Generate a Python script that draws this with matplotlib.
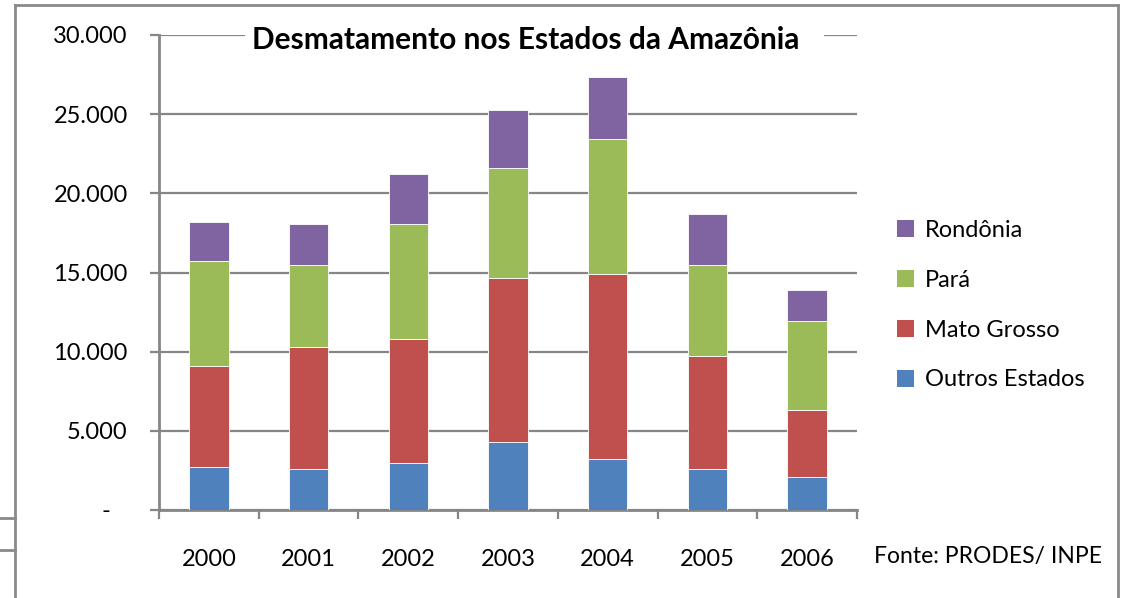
import numpy as np
import matplotlib
matplotlib.use("Agg")
import matplotlib.pyplot as plt
from matplotlib.lines import Line2D
from matplotlib.patches import Rectangle, Patch
from matplotlib.transforms import ScaledTranslation

plt.rcParams['font.family'] = ['Lato', 'DejaVu Sans']

W, H = 1126, 598

anos = ["2000", "2001", "2002", "2003", "2004", "2005", "2006"]
outros = [2694, 2568, 2947, 4272, 3218, 2568, 2063]
mato_grosso = [6373, 7698, 7824, 10411, 11718, 7169, 4266]
para = [6664, 5194, 7320, 6941, 8474, 5723, 5616]
rondonia = [2486, 2606, 3109, 3616, 3931, 3262, 1981]

series = [("Outros Estados", outros, "#4F81BD"),
          ("Mato Grosso", mato_grosso, "#C0504D"),
          ("Pará", para, "#9BBB59"),
          ("Rondônia", rondonia, "#8064A2")]

y_ticks = [0, 5000, 10000, 15000, 20000, 25000, 30000]
y_labels = ["-", "5.000", "10.000", "15.000", "20.000", "25.000", "30.000"]

GRAY = "#868686"


def px(x, y):
    return x / W, 1 - y / H


fig = plt.figure(figsize=(W / 100, H / 100), dpi=100)
l, b = px(159, 510)
r, t = px(857, 35)
ax = fig.add_axes([l, b, r - l, t - b])

x = np.arange(len(anos))
bottom = np.zeros(len(anos))
for nome, vals, cor in series:
    ax.bar(x, vals, width=0.395, bottom=bottom, color=cor, edgecolor="white",
           linewidth=0.6, label=nome, zorder=3)
    bottom += np.array(vals)

ax.set_xlim(-0.5, len(anos) - 0.5)
ax.set_ylim(0, 30000)
ax.set_yticks(y_ticks)
ax.set_yticklabels(y_labels)
ax.set_xticks(x)
ax.set_xticklabels(anos)
ax.set_xticks(np.arange(-0.5, len(anos)), minor=True)
ax.tick_params(axis="x", which="major", length=0, pad=28, labelsize=17)
ax.tick_params(axis="x", which="minor", length=6.5, width=1.6, color=GRAY, direction="out")
ax.tick_params(axis="y", length=6.5, width=1.6, color=GRAY, pad=16, labelsize=17)

# Excel puts the zero dash a bit to the left
lbl0 = ax.get_yticklabels()[0]
lbl0.set_transform(lbl0.get_transform() + ScaledTranslation(-0.17, 0, fig.dpi_scale_trans))

ax.grid(axis="y", color=GRAY, linewidth=1.6, zorder=0)
ax.set_axisbelow(True)
for s in ["top", "right"]:
    ax.spines[s].set_visible(False)
for s in ["left", "bottom"]:
    ax.spines[s].set_color(GRAY)
    ax.spines[s].set_linewidth(2)

# title with white box over the top gridline
x0, y0 = px(245, 54)
x1, y1 = px(824, 20)
fig.add_artist(Rectangle((x0, y0), x1 - x0, y1 - y0, transform=fig.transFigure,
                         facecolor="white", edgecolor="none", zorder=5))
fig.text(*px(526, 40), "Desmatamento nos Estados da Amazônia", ha="center", va="center",
         fontsize=21.5, fontweight="bold", zorder=6)

handles = [Patch(facecolor=c, edgecolor="none") for _, _, c in series[::-1]]
labels = [n for n, _, _ in series[::-1]]
fig.legend(handles, labels, loc="upper left", bbox_to_anchor=px(897, 220), frameon=False,
           fontsize=17, handlelength=0.72, handleheight=0.72, handletextpad=0.45,
           labelspacing=1.22, borderpad=0, borderaxespad=0)

fig.text(*px(874, 556), "Fonte: PRODES/ INPE", ha="left", va="center", fontsize=16.5)

# outer frame of the pasted chart
frame = [((15, 5), (1118, 5)), ((15, 5), (15, 598)), ((1118, 5), (1118, 598)),
         ((0, 518), (15, 518)), ((0, 550), (15, 550))]
for p, q in frame:
    (fx0, fy0), (fx1, fy1) = px(*p), px(*q)
    fig.add_artist(Line2D([fx0, fx1], [fy0, fy1], transform=fig.transFigure,
                          color="#8a8a8a", linewidth=2))

fig.savefig("out.png", dpi=100)
